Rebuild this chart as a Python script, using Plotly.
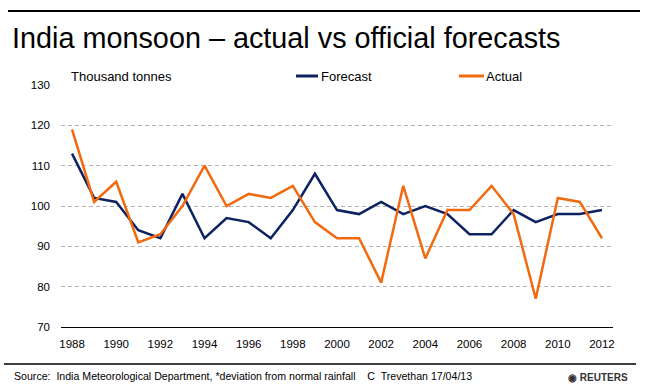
import plotly.graph_objects as go

years = [str(y) for y in range(1988, 2013)]
forecast = [113, 102, 101, 94, 92, 103, 92, 97, 96, 92, 99, 108, 99, 98, 101, 98, 100, 98, 93, 93, 99, 96, 98, 98, 99]
actual = [119, 101, 106, 91, 93, 100, 110, 100, 103, 102, 105, 96, 92, 92, 81, 105, 87, 99, 99, 105, 98, 77, 102, 101, 92]
tick_years = [str(y) for y in range(1988, 2013, 2)]

FONT = "Liberation Sans, Arial, sans-serif"
PW, PH = 552, 242  # plot area size in px
L, T = 61, 85


def px(x):
    return (x - L) / PW


def py(y):
    return 1 - (y - T) / PH


fig = go.Figure()
fig.add_trace(go.Scatter(x=years, y=forecast, mode="lines", name="Forecast",
                         line=dict(color="#0d2260", width=2.5), showlegend=False))
fig.add_trace(go.Scatter(x=years, y=actual, mode="lines", name="Actual",
                         line=dict(color="#f26a10", width=2.5), showlegend=False))

fig.update_layout(
    width=650, height=390,
    margin=dict(l=L, r=650 - L - PW, t=T, b=390 - T - PH),
    paper_bgcolor="white", plot_bgcolor="white",
    font=dict(family=FONT, size=11, color="black"),
    xaxis=dict(type="category", range=[-0.5, 24.5], tickvals=tick_years, ticktext=tick_years,
               showgrid=False, showline=True, linecolor="black", linewidth=1, ticks="",
               ticklabelstandoff=6, tickfont=dict(size=11.5)),
    yaxis=dict(range=[70, 130], dtick=10, showgrid=True, gridcolor="#b4b4b4", griddash="4px,3px",
               gridwidth=1, zeroline=False, showline=False, ticks="", ticklabelstandoff=10,
               tickfont=dict(size=11.5)),
    shapes=[
        dict(type="line", xref="paper", yref="paper", x0=px(8), x1=px(640),
             y0=py(11), y1=py(11), line=dict(color="black", width=2)),
        dict(type="line", xref="paper", yref="paper", x0=px(4), x1=px(636),
             y0=py(364), y1=py(364), line=dict(color="black", width=1.5)),
        # legend swatches
        dict(type="line", xref="paper", yref="paper", x0=px(296), x1=px(318),
             y0=py(76), y1=py(76), line=dict(color="#0d2260", width=3)),
        dict(type="line", xref="paper", yref="paper", x0=px(459), x1=px(484),
             y0=py(76), y1=py(76), line=dict(color="#f26a10", width=3)),
    ],
    annotations=[
        dict(text="India monsoon – actual vs official forecasts", xref="paper", yref="paper",
             x=px(10), y=py(38), xanchor="left", yanchor="middle",
             showarrow=False, font=dict(size=28.8, family=FONT, color="black")),
        dict(text="Thousand tonnes", xref="paper", yref="paper", x=px(69), y=py(76),
             xanchor="left", yanchor="middle", showarrow=False, font=dict(size=13)),
        dict(text="Forecast", xref="paper", yref="paper", x=px(319), y=py(76),
             xanchor="left", yanchor="middle", showarrow=False, font=dict(size=13)),
        dict(text="Actual", xref="paper", yref="paper", x=px(484), y=py(76),
             xanchor="left", yanchor="middle", showarrow=False, font=dict(size=13)),
        dict(text="Source:  India Meteorological Department, *deviation from normal rainfall    C  Trevethan 17/04/13",
             xref="paper", yref="paper", x=px(12), y=py(376),
             xanchor="left", yanchor="middle", showarrow=False, font=dict(size=10.6)),
        dict(text="<b>◉ REUTERS</b>", xref="paper", yref="paper", x=px(630), y=py(377),
             xanchor="right", yanchor="middle", showarrow=False, font=dict(size=10, color="#333333")),
    ],
)

fig.write_html("out.html", config={"displayModeBar": False},
               post_script="document.body.style.margin='0';")
